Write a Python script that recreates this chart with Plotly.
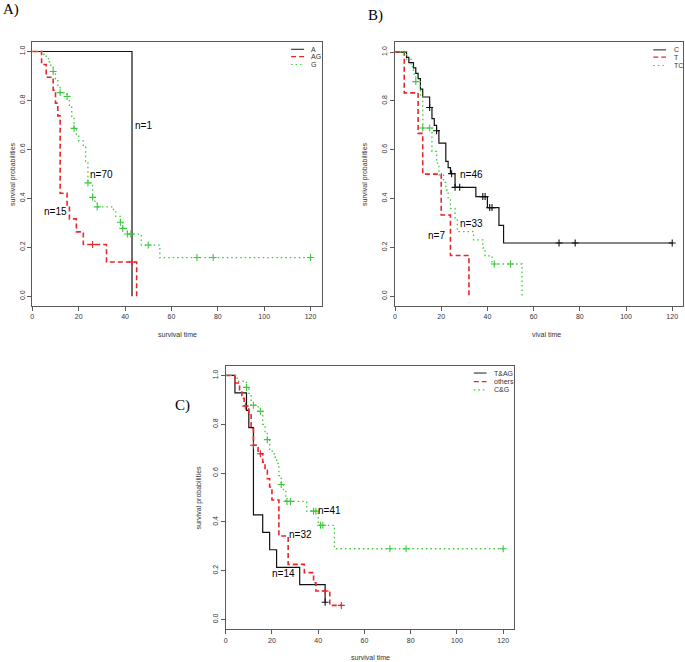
import plotly.graph_objects as go

# ---------------- data ----------------
# Panel A
a_A_time = [0, 43]
a_A_surv = [1.0, 0.0]
a_AG_time = [0, 4, 6, 9, 10, 11, 12, 15, 16, 19, 22, 32, 45]
a_AG_surv = [1.0, 0.947, 0.895, 0.842, 0.789, 0.737, 0.421, 0.368, 0.316, 0.263, 0.211, 0.140, 0.0]
a_AG_cens_t = [26, 43]
a_AG_cens_s = [0.211, 0.140]
a_G_time = [0, 5, 6, 7, 8, 9, 10, 11, 12, 15, 16, 17, 18, 19, 20, 22, 23, 24, 26, 27, 28,
            35, 36, 38, 39, 41, 47, 55, 120]
a_G_surv = [1.0, 0.986, 0.971, 0.957, 0.943, 0.918, 0.888, 0.862, 0.832, 0.816, 0.775, 0.735,
            0.686, 0.66, 0.635, 0.61, 0.55, 0.463, 0.404, 0.385, 0.365, 0.345, 0.326, 0.302,
            0.277, 0.254, 0.209, 0.158, 0.158]
a_G_cens_t = [9, 12, 15, 18, 24, 26, 28, 38, 39, 41, 42.5, 50, 71, 78, 120]
a_G_cens_s = [0.918, 0.832, 0.816, 0.686, 0.463, 0.404, 0.365, 0.302, 0.277, 0.254, 0.254,
              0.209, 0.158, 0.158, 0.158]

# Panel B
b_C_time = [0, 5, 6, 8, 9, 10, 11, 12, 15, 16, 17, 18, 19, 22, 23, 24, 26, 35, 40, 45, 47, 120]
b_C_surv = [1.0, 0.978, 0.957, 0.935, 0.913, 0.891, 0.848, 0.816, 0.773, 0.727, 0.700, 0.678,
            0.627, 0.552, 0.527, 0.502, 0.446, 0.408, 0.363, 0.290, 0.218, 0.218]
b_C_cens_t = [15, 18, 24.5, 26, 28, 38, 39, 41, 42, 71, 78, 120]
b_C_cens_s = [0.773, 0.678, 0.502, 0.446, 0.446, 0.408, 0.408, 0.363, 0.363, 0.218, 0.218, 0.218]
b_T_time = [0, 4, 10, 12, 20, 24, 32]
b_T_surv = [1.0, 0.833, 0.667, 0.5, 0.333, 0.167, 0.0]
b_TC_time = [0, 5, 7, 8, 9, 11, 12, 16, 18, 19, 21, 22, 23, 24, 26, 27, 34, 38, 39, 42, 55]
b_TC_surv = [1.0, 0.97, 0.94, 0.91, 0.879, 0.818, 0.689, 0.593, 0.545, 0.497, 0.466, 0.435,
             0.40, 0.36, 0.313, 0.265, 0.231, 0.198, 0.165, 0.132, 0.0]
b_TC_cens_t = [9, 12, 15, 43, 50]
b_TC_cens_s = [0.879, 0.689, 0.689, 0.132, 0.132]

# Panel C
c_TAG_time = [0, 4, 9, 10, 12, 16, 19, 22, 32, 43]
c_TAG_surv = [1.0, 0.929, 0.857, 0.786, 0.429, 0.357, 0.286, 0.214, 0.143, 0.071]
c_TAG_cens_t = [43]
c_TAG_cens_s = [0.071]
c_oth_time = [0, 4, 6, 7, 8, 10, 11, 12, 14, 16, 17, 18, 19, 20, 23, 27, 34, 38, 39, 45, 50]
c_oth_surv = [1.0, 0.969, 0.938, 0.906, 0.875, 0.844, 0.781, 0.714, 0.679, 0.645, 0.611, 0.577,
              0.543, 0.49, 0.342, 0.226, 0.192, 0.151, 0.117, 0.058, 0.058]
c_oth_cens_t = [8.5, 12, 15, 43, 50]
c_oth_cens_s = [0.875, 0.714, 0.679, 0.117, 0.058]
c_CG_time = [0, 5, 9, 10, 11, 14, 16, 17, 18, 19, 21, 22, 23, 24, 25, 26, 35, 40, 47, 120]
c_CG_surv = [1.0, 0.976, 0.951, 0.927, 0.878, 0.853, 0.80, 0.765, 0.737, 0.69, 0.665, 0.64,
             0.59, 0.553, 0.53, 0.484, 0.444, 0.386, 0.29, 0.29]
c_CG_cens_t = [9, 12, 15, 18, 24, 26.5, 28, 38, 39, 41, 42, 71, 78, 120]
c_CG_cens_s = [0.951, 0.878, 0.853, 0.737, 0.553, 0.484, 0.484, 0.444, 0.444, 0.386, 0.386,
               0.29, 0.29, 0.29]

legend_A = ["A", "AG", "G"]
legend_B = ["C", "T", "TC"]
legend_C = ["T&AG", "others", "C&G"]
n_A = ["n=1", "n=15", "n=70"]
n_B = ["n=46", "n=7", "n=33"]
n_C = ["n=14", "n=32", "n=41"]
x_ticks = [0, 20, 40, 60, 80, 100, 120]
y_ticks = [0.0, 0.2, 0.4, 0.6, 0.8, 1.0]
y_ticklabels = ["0.0", "0.2", "0.4", "0.6", "0.8", "1.0"]

# ---------------- styling / layout ----------------
W, H = 685, 662
SANS = "Liberation Sans, Arial, sans-serif"
SERIF = "Liberation Serif, Times New Roman, serif"
BLACK = "#111111"
RED = "#e8262b"
GREEN = "#3cc83c"
STY = [
    dict(color=BLACK, width=1.2, dash="solid"),
    dict(color=RED, width=1.6, dash="5px,3px"),
    dict(color=GREEN, width=1.3, dash="1.5px,3px"),
]
GREY = "#333333"


def px_x(p):
    return p / W


def px_y(p):
    return 1 - p / H


fig = go.Figure()


def add_curve(ax, t, s, ct, cs, st):
    xa = "x" if ax == 1 else "x%d" % ax
    ya = "y" if ax == 1 else "y%d" % ax
    fig.add_trace(go.Scatter(x=t, y=s, mode="lines", line=dict(shape="hv", **st),
                             xaxis=xa, yaxis=ya, showlegend=False, hoverinfo="skip"))
    if ct:
        fig.add_trace(go.Scatter(x=ct, y=cs, mode="markers",
                                 marker=dict(symbol="cross-thin", size=5,
                                             line=dict(width=1.1, color=st["color"])),
                                 xaxis=xa, yaxis=ya, showlegend=False, hoverinfo="skip"))


add_curve(1, a_A_time, a_A_surv, [], [], STY[0])
add_curve(1, a_AG_time, a_AG_surv, a_AG_cens_t, a_AG_cens_s, STY[1])
add_curve(1, a_G_time, a_G_surv, a_G_cens_t, a_G_cens_s, STY[2])

add_curve(2, b_C_time, b_C_surv, b_C_cens_t, b_C_cens_s, STY[0])
add_curve(2, b_T_time, b_T_surv, [], [], STY[1])
add_curve(2, b_TC_time, b_TC_surv, b_TC_cens_t, b_TC_cens_s, STY[2])

add_curve(3, c_TAG_time, c_TAG_surv, c_TAG_cens_t, c_TAG_cens_s, STY[0])
add_curve(3, c_oth_time, c_oth_surv, c_oth_cens_t, c_oth_cens_s, STY[1])
add_curve(3, c_CG_time, c_CG_surv, c_CG_cens_t, c_CG_cens_s, STY[2])

# panel boxes in pixels: (left, right, top, bottom)
boxes = {1: (32.3, 321.7, 41.7, 306.0), 2: (395.0, 683.3, 42.3, 306.0), 3: (225.7, 514.3, 365.7, 629.3)}

axis_common = dict(showline=True, mirror=True, linecolor="#5a5a5a", linewidth=1,
                   ticks="outside", ticklen=4, tickwidth=1, tickcolor="#5a5a5a",
                   showgrid=False, zeroline=False, automargin=False,
                   tickfont=dict(family=SANS, size=7, color=GREY))
layout = {}
for i, (l, r, t, b) in boxes.items():
    xk = "xaxis" if i == 1 else "xaxis%d" % i
    yk = "yaxis" if i == 1 else "yaxis%d" % i
    xa = "x" if i == 1 else "x%d" % i
    ya = "y" if i == 1 else "y%d" % i
    layout[xk] = dict(domain=[px_x(l), px_x(r)], range=[0, 124.8], anchor=ya,
                      tickvals=x_ticks, ticktext=[str(v) for v in x_ticks], **axis_common)
    layout[yk] = dict(domain=[px_y(b), px_y(t)], range=[-0.04, 1.04], anchor=xa,
                      tickvals=y_ticks, ticktext=y_ticklabels, tickangle=-90, **axis_common)

fig.update_layout(width=W, height=H, margin=dict(l=0, r=0, t=0, b=0), autosize=False,
                  paper_bgcolor="white", plot_bgcolor="white", showlegend=False, **layout)

ann = []
shapes = []


def paper_text(x, y, text, size, family=SANS, color=GREY, xanchor="center", angle=0):
    ann.append(dict(x=px_x(x), y=px_y(y), xref="paper", yref="paper", text=text,
                    xanchor=xanchor, yanchor="middle", textangle=angle, showarrow=False,
                    font=dict(family=family, size=size, color=color)))


# axis titles
for x, y in [(13, 174), (365, 174), (198, 497.5)]:
    paper_text(x, y, "survival probabilities", 7, angle=-90)
paper_text(177, 335, "survival time", 7)
paper_text(529.5, 335, "vival time", 7, xanchor="left")
paper_text(370, 657, "survival time", 7)

# panel letters
paper_text(1, 10, "A)", 15, family=SERIF, color="black", xanchor="left")
paper_text(375, 15.5, "B)", 15, family=SERIF, color="black")
paper_text(183, 405, "C)", 15, family=SERIF, color="black")

# n labels (data coords)
n_pos = {
    1: [(47.8, 0.698), (10.0, 0.347), (29.9, 0.497)],
    2: [(33.0, 0.497), (17.9, 0.247), (33.0, 0.296)],
    3: [(25.2, 0.189), (32.3, 0.349), (44.8, 0.448)],
}
for i, labels in [(1, n_A), (2, n_B), (3, n_C)]:
    xa = "x" if i == 1 else "x%d" % i
    ya = "y" if i == 1 else "y%d" % i
    for lab, (x, y) in zip(labels, n_pos[i]):
        ann.append(dict(x=x, y=y, xref=xa, yref=ya, text=lab, showarrow=False,
                        xanchor="center", yanchor="middle",
                        font=dict(family=SANS, size=10, color="black")))

# legends (no box) in data coords: (line x0, line x1, text x, row ys)
leg_pos = {
    1: (111.6, 117.2, 119.3, [1.009, 0.979, 0.947]),
    2: (111.8, 117.3, 120.0, [1.009, 0.979, 0.945]),
    3: (107.3, 112.8, 115.0, [1.010, 0.975, 0.941]),
}
for i, labels in [(1, legend_A), (2, legend_B), (3, legend_C)]:
    xa = "x" if i == 1 else "x%d" % i
    ya = "y" if i == 1 else "y%d" % i
    x0, x1, xt, ys = leg_pos[i]
    for lab, y, st in zip(labels, ys, STY):
        shapes.append(dict(type="line", xref=xa, yref=ya, x0=x0, x1=x1, y0=y, y1=y,
                           line=dict(color=st["color"], width=st["width"] * 0.8, dash=st["dash"])))
        ann.append(dict(x=xt, y=y, xref=xa, yref=ya, text=lab, xanchor="left", yanchor="middle",
                        showarrow=False, font=dict(family=SANS, size=7, color=GREY)))

fig.update_layout(annotations=ann, shapes=shapes)
fig.write_html("out.html", config={"displayModeBar": False},
               post_script="document.body.style.margin='0px';")
